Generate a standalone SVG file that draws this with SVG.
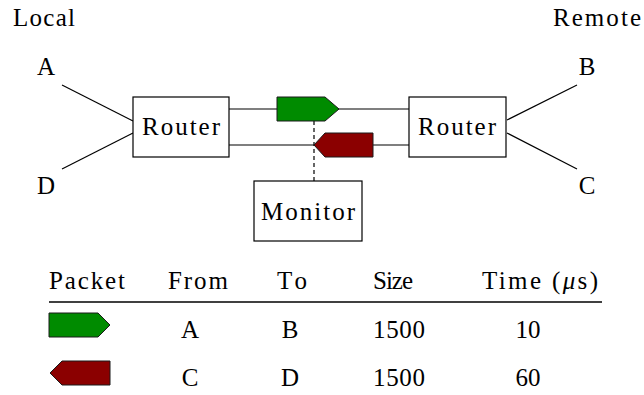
<svg xmlns="http://www.w3.org/2000/svg" width="644" height="395" viewBox="0 0 644 395">
<rect width="644" height="395" fill="#fff"/>
<g id="connectors" stroke="#000" stroke-width="1.2" fill="none">
<line x1="62" y1="85" x2="133" y2="121"/>
<line x1="62" y1="169" x2="133" y2="133"/>
<line x1="507" y1="120" x2="577" y2="85"/>
<line x1="507" y1="133" x2="577" y2="169"/>
<line x1="229" y1="109" x2="409" y2="109"/>
<line x1="229" y1="145" x2="409" y2="145"/>
<line x1="314" y1="121" x2="314" y2="181" stroke-dasharray="4,3"/>
</g>
<g id="label-local"><text x="13" y="26" textLength="62" font-family="Liberation Serif" font-size="25">Local</text></g>
<g id="label-remote"><text x="553" y="26" textLength="88" font-family="Liberation Serif" font-size="25">Remote</text></g>
<g id="node-A"><text x="46" y="75" text-anchor="middle" font-family="Liberation Serif" font-size="25">A</text></g>
<g id="node-D"><text x="46" y="194" text-anchor="middle" font-family="Liberation Serif" font-size="25">D</text></g>
<g id="node-B"><text x="587" y="75" text-anchor="middle" font-family="Liberation Serif" font-size="25">B</text></g>
<g id="node-C"><text x="587" y="194" text-anchor="middle" font-family="Liberation Serif" font-size="25">C</text></g>
<g id="router-left"><rect x="133" y="97" width="96" height="60" fill="#fff" stroke="#000" stroke-width="1.2"/><text x="142" y="135" textLength="78" font-family="Liberation Serif" font-size="25">Router</text></g>
<g id="router-right"><rect x="409" y="97" width="97" height="60" fill="#fff" stroke="#000" stroke-width="1.2"/><text x="418" y="135" textLength="78" font-family="Liberation Serif" font-size="25">Router</text></g>
<g id="monitor"><rect x="254" y="181" width="108" height="60" fill="#fff" stroke="#000" stroke-width="1.2"/><text x="261" y="220" textLength="94" font-family="Liberation Serif" font-size="25">Monitor</text></g>
<g id="packet-green"><polygon points="277,97 325,97 339,109 325,121 277,121" fill="#008b00" stroke="#1a1a1a" stroke-width="1"/></g>
<g id="packet-red"><polygon points="314,145 325,133 373,133 373,157 325,157" fill="#8b0000" stroke="#1a1a1a" stroke-width="1"/></g>
<g id="table">
<text x="49" y="289" textLength="76" font-family="Liberation Serif" font-size="25">Packet</text>
<text x="168" y="289" textLength="60" font-family="Liberation Serif" font-size="25">From</text>
<text x="277" y="289" textLength="30" font-family="Liberation Serif" font-size="25">To</text>
<text x="373" y="289" textLength="40" font-family="Liberation Serif" font-size="25">Size</text>
<text x="482" y="289" textLength="116" font-family="Liberation Serif" font-size="25">Time (<tspan font-style="italic">μ</tspan>s)</text>
<line x1="49" y1="302" x2="602" y2="302" stroke="#000" stroke-width="1.3"/>
<polygon points="49,313 98,313 110,325 98,337 49,337" fill="#008b00" stroke="#1a1a1a" stroke-width="1"/>
<text x="190" y="338" text-anchor="middle" font-family="Liberation Serif" font-size="25">A</text>
<text x="290" y="338" text-anchor="middle" font-family="Liberation Serif" font-size="25">B</text>
<text x="373" y="338" textLength="52" font-family="Liberation Serif" font-size="25">1500</text>
<text x="528" y="338" text-anchor="middle" font-family="Liberation Serif" font-size="25">10</text>
<polygon points="50,373 62,361 110,361 110,385 62,385" fill="#8b0000" stroke="#1a1a1a" stroke-width="1"/>
<text x="190" y="386" text-anchor="middle" font-family="Liberation Serif" font-size="25">C</text>
<text x="290" y="386" text-anchor="middle" font-family="Liberation Serif" font-size="25">D</text>
<text x="373" y="386" textLength="52" font-family="Liberation Serif" font-size="25">1500</text>
<text x="528" y="386" text-anchor="middle" font-family="Liberation Serif" font-size="25">60</text>
</g>
</svg>
